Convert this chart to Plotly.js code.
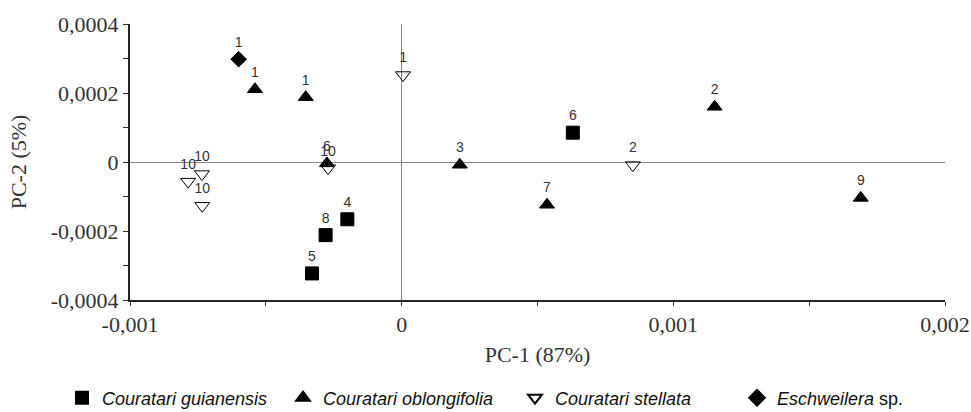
<!DOCTYPE html>
<html>
<head>
<meta charset="utf-8">
<script src="https://cdn.plot.ly/plotly-3.0.1.min.js"></script>
<style>html,body{margin:0;padding:0;background:#fff;}#chart{width:971px;height:412px;}</style>
</head>
<body>
<div id="chart"></div>
<script>
// Couratari guianensis
const guiX = [-0.00020, -0.00028, -0.00033, 0.00063];
const guiY = [-0.000166, -0.000212, -0.000323, 0.000085];
const guiLabels = ["4", "8", "5", "6"];
// Couratari oblongifolia
const oblX = [-0.00054, -0.000353, -0.000275, 0.000214, 0.000535, 0.001152, 0.00169];
const oblY = [0.000211, 0.000188, -0.000004, -0.000008, -0.000124, 0.000160, -0.000104];
const oblLabels = ["1", "1", "6", "3", "7", "2", "9"];
// Couratari stellata
const steX = [0.000005, -0.000786, -0.000735, -0.000734, -0.000271, 0.000851];
const steY = [0.000252, -0.000057, -0.000035, -0.000127, -0.000018, -0.000009];
const steLabels = ["1", "10", "10", "10", "10", "2"];
// Eschweilera sp.
const escX = [-0.00060];
const escY = [0.000298];
const escLabels = ["1"];

const seriesNames = ["<i>Couratari guianensis</i>", "<i>Couratari oblongifolia</i>", "<i>Couratari stellata</i>", "<i>Eschweilera</i> sp."];

const xTickVals = [-0.001, -0.0005, 0, 0.0005, 0.001, 0.0015, 0.002];
const xTickText = ["-0,001", "", "0", "", "0,001", "", "0,002"];
const yTickVals = [-0.0004, -0.0003, -0.0002, -0.0001, 0, 0.0001, 0.0002, 0.0003, 0.0004];
const yTickText = ["-0,0004", "", "-0,0002", "", "0", "", "0,0002", "", "0,0004"];

const labelFont = {family: "Liberation Sans, Arial, sans-serif", size: 14, color: "#333"};

function mk(x, y, t, name, symbol, size, legendId) {
  return {
    type: "scatter", mode: "markers+text", x: x, y: y, text: t, name: name,
    textposition: "top center", textfont: labelFont,
    marker: {symbol: symbol, size: size, color: "#000", line: {color: "#000", width: 1}},
    cliponaxis: false, legend: legendId
  };
}

const traces = [
  mk(guiX, guiY, guiLabels, seriesNames[0], "square", 13, "legend"),
  mk(oblX, oblY, oblLabels, seriesNames[1], "triangle-up", 13, "legend2"),
  mk(steX, steY, steLabels, seriesNames[2], "triangle-down-open", 13, "legend3"),
  mk(escX, escY, escLabels, seriesNames[3], "diamond", 12, "legend4")
];

const serif = "Liberation Serif, Times New Roman, serif";
const legFont = {family: "Liberation Sans, Arial, sans-serif", size: 18, color: "#111"};
const plotL = 130, plotW = 815, plotB = 300, plotH = 276;
function legAt(px, py) {
  return {
    orientation: "h", x: (px - plotL) / plotW, xanchor: "left",
    y: (plotB - py) / plotH, yanchor: "middle",
    font: legFont, itemsizing: "constant", bgcolor: "rgba(0,0,0,0)"
  };
}

const layout = {
  width: 971, height: 412,
  margin: {l: 130, r: 26, t: 24, b: 112, autoexpand: false},
  paper_bgcolor: "#fff", plot_bgcolor: "#fff",
  showlegend: true,
  legend: legAt(62, 398),
  legend2: legAt(283, 398),
  legend3: legAt(515, 398),
  legend4: legAt(737, 398),
  xaxis: {
    range: [-0.001, 0.002], autorange: false,
    tickmode: "array", tickvals: xTickVals, ticktext: xTickText,
    ticks: "outside", ticklen: 4, tickcolor: "#333", tickwidth: 1,
    tickfont: {family: serif, size: 22, color: "#333"},
    showgrid: false, showline: true, linecolor: "#222", linewidth: 2,
    zeroline: true, zerolinecolor: "#888", zerolinewidth: 1,
    title: {text: "PC-1 (87%)", font: {family: serif, size: 22, color: "#333"}, standoff: 10},
    automargin: false
  },
  yaxis: {
    range: [-0.0004, 0.0004], autorange: false,
    tickmode: "array", tickvals: yTickVals, ticktext: yTickText,
    ticks: "outside", ticklen: 5, tickcolor: "#333", tickwidth: 1,
    tickfont: {family: serif, size: 22, color: "#333"},
    showgrid: false, showline: true, linecolor: "#222", linewidth: 2,
    zeroline: true, zerolinecolor: "#888", zerolinewidth: 1,
    title: {text: "PC-2 (5%)", font: {family: serif, size: 22, color: "#333"}, standoff: 18},
    automargin: false
  }
};

Plotly.newPlot("chart", traces, layout, {staticPlot: true, displayModeBar: false});
</script>
</body>
</html>
